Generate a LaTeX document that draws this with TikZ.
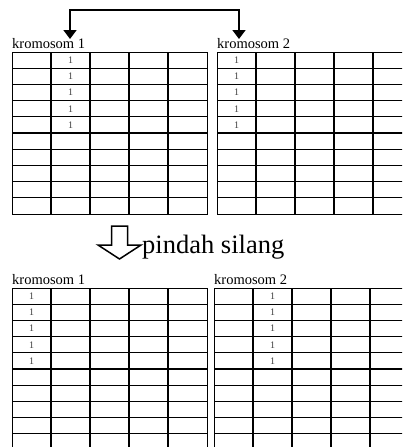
\documentclass[tikz,border=0pt]{standalone}
\usepackage{fontspec}
\setmainfont{Liberation Serif}
\usepackage{tikz}
\usetikzlibrary{
  positioning,
  arrows.meta,
  calc
}
\tikzset{
  >=Latex,
  tabel/.style={draw,line width=1.1pt,minimum width=195pt,minimum height=162pt,inner sep=0pt,anchor=north west},
  garis/.style={line width=1.1pt},
  judul/.style={anchor=base west,inner sep=0pt,font=\fontsize{14.5}{15}\selectfont},
  gen/.style={inner sep=0pt,text=black!75,font=\fontsize{10}{10}\selectfont},
  tukar/.style={{Triangle[width=13pt,length=9pt]}-{Triangle[width=13pt,length=9pt]},line width=1.6pt},
  pindah/.style={draw,line width=1.5pt,line join=miter}
}
% one chromosome table: 5 columns x 10 rows, genes "1" in column #4
\newcommand{\kromtabel}[5]{%
  \node[tabel] (#1) at (#2,#3) {};
  \foreach \c in {1,...,4}
    \draw[garis] ($(#1.north west)+(\c*39,0)$) -- ++(0,162);
  \foreach \r in {1,...,9}
    \draw[garis] ($(#1.north west)+(0,\r*16.2)$) -- ++(195,0);
  \foreach \r in {1,...,5}
    \node[gen] at ($(#1.north west)+(#4*39-19.5,\r*16.2-8.1)$) {1};
  \node[judul] (#1-judul) at ($(#1.north west)+(0,-3.5)$) {kromosom #5};
}

\begin{document}
\begin{tikzpicture}[x=1pt,y=-1pt]
    \clip (0,0) rectangle (402,447);
    \useasboundingbox (0,0) rectangle (402,447);

    % before crossover
    \kromtabel{atas1}{12}{52}{2}{1}
    \kromtabel{atas2}{217}{52}{1}{2}

    % swap arrow
    \coordinate (ujung1) at (70,39);
    \coordinate (ujung2) at (239,39);
    \coordinate (puncak) at (155,10);
    \draw[tukar] (ujung1) |- (puncak) -| (ujung2);

    % crossover step
    \draw[pindah] (111.5,226) -- (111.5,245) -- (98,245) -- (119.5,259)
        -- (141,245) -- (127.5,245) -- (127.5,226) -- cycle;
    \node[anchor=base west,inner sep=0pt,font=\fontsize{26.5}{27}\selectfont] (silang) at (142,253) {pindah silang};

    % after crossover
    \kromtabel{bawah1}{12}{288}{1}{1}
    \kromtabel{bawah2}{214}{288}{2}{2}
\end{tikzpicture}
\end{document}
